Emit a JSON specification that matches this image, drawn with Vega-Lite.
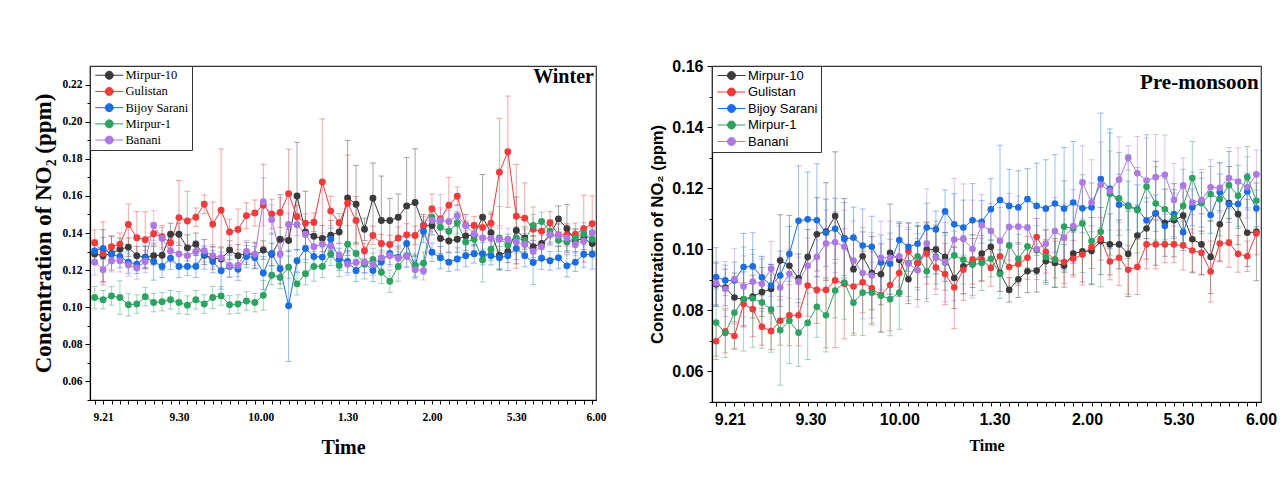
{
"$schema": "https://vega.github.io/schema/vega-lite/v6.json",
"background": "white",
"padding": {"left": 32, "top": 57, "right": 0, "bottom": 0},
"spacing": 42,
"columns": 2,
"resolve": {"legend": {"color": "independent"}},
"datasets": {
"W": [
{"s":"Mirpur-10","i":0,"v":0.1287,"e":0.005},{"s":"Mirpur-10","i":1,"v":0.1278,"e":0.014},{"s":"Mirpur-10","i":2,"v":0.129,"e":0.009},{"s":"Mirpur-10","i":3,"v":0.1313,"e":0.006},{"s":"Mirpur-10","i":4,"v":0.1324,"e":0.005},{"s":"Mirpur-10","i":5,"v":0.1278,"e":0.005},{"s":"Mirpur-10","i":6,"v":0.127,"e":0.006},{"s":"Mirpur-10","i":7,"v":0.1278,"e":0.005},{"s":"Mirpur-10","i":8,"v":0.128,"e":0.008},{"s":"Mirpur-10","i":9,"v":0.1393,"e":0.006},
{"s":"Mirpur-10","i":10,"v":0.1393,"e":0.006},{"s":"Mirpur-10","i":11,"v":0.132,"e":0.007},{"s":"Mirpur-10","i":12,"v":0.134,"e":0.006},{"s":"Mirpur-10","i":13,"v":0.128,"e":0.005},{"s":"Mirpur-10","i":14,"v":0.1265,"e":0.006},{"s":"Mirpur-10","i":15,"v":0.126,"e":0.006},{"s":"Mirpur-10","i":16,"v":0.1308,"e":0.005},{"s":"Mirpur-10","i":17,"v":0.1278,"e":0.006},{"s":"Mirpur-10","i":18,"v":0.129,"e":0.006},{"s":"Mirpur-10","i":19,"v":0.128,"e":0.007},
{"s":"Mirpur-10","i":20,"v":0.1308,"e":0.005},{"s":"Mirpur-10","i":21,"v":0.1285,"e":0.006},{"s":"Mirpur-10","i":22,"v":0.1366,"e":0.024},{"s":"Mirpur-10","i":23,"v":0.136,"e":0.006},{"s":"Mirpur-10","i":24,"v":0.1599,"e":0.029},{"s":"Mirpur-10","i":25,"v":0.1405,"e":0.022},{"s":"Mirpur-10","i":26,"v":0.1382,"e":0.006},{"s":"Mirpur-10","i":27,"v":0.137,"e":0.007},{"s":"Mirpur-10","i":28,"v":0.1388,"e":0.008},{"s":"Mirpur-10","i":29,"v":0.1405,"e":0.006},
{"s":"Mirpur-10","i":30,"v":0.1589,"e":0.031},{"s":"Mirpur-10","i":31,"v":0.1555,"e":0.021},{"s":"Mirpur-10","i":32,"v":0.142,"e":0.006},{"s":"Mirpur-10","i":33,"v":0.1587,"e":0.019},{"s":"Mirpur-10","i":34,"v":0.1467,"e":0.024},{"s":"Mirpur-10","i":35,"v":0.1467,"e":0.012},{"s":"Mirpur-10","i":36,"v":0.1485,"e":0.0125},{"s":"Mirpur-10","i":37,"v":0.1546,"e":0.026},{"s":"Mirpur-10","i":38,"v":0.1564,"e":0.029},{"s":"Mirpur-10","i":39,"v":0.144,"e":0.006},
{"s":"Mirpur-10","i":40,"v":0.144,"e":0.005},{"s":"Mirpur-10","i":41,"v":0.137,"e":0.008},{"s":"Mirpur-10","i":42,"v":0.1357,"e":0.006},{"s":"Mirpur-10","i":43,"v":0.1366,"e":0.007},{"s":"Mirpur-10","i":44,"v":0.1384,"e":0.008},{"s":"Mirpur-10","i":45,"v":0.139,"e":0.006},{"s":"Mirpur-10","i":46,"v":0.1485,"e":0.023},{"s":"Mirpur-10","i":47,"v":0.1402,"e":0.01},{"s":"Mirpur-10","i":48,"v":0.128,"e":0.008},{"s":"Mirpur-10","i":49,"v":0.13,"e":0.006},
{"s":"Mirpur-10","i":50,"v":0.1414,"e":0.018},{"s":"Mirpur-10","i":51,"v":0.1373,"e":0.006},{"s":"Mirpur-10","i":52,"v":0.1326,"e":0.006},{"s":"Mirpur-10","i":53,"v":0.1343,"e":0.007},{"s":"Mirpur-10","i":54,"v":0.139,"e":0.005},{"s":"Mirpur-10","i":55,"v":0.1476,"e":0.007},{"s":"Mirpur-10","i":56,"v":0.1423,"e":0.013},{"s":"Mirpur-10","i":57,"v":0.136,"e":0.006},{"s":"Mirpur-10","i":58,"v":0.137,"e":0.006},{"s":"Mirpur-10","i":59,"v":0.1343,"e":0.006},
{"s":"Gulistan","i":0,"v":0.1347,"e":0.007},{"s":"Gulistan","i":1,"v":0.129,"e":0.017},{"s":"Gulistan","i":2,"v":0.1326,"e":0.006},{"s":"Gulistan","i":3,"v":0.134,"e":0.006},{"s":"Gulistan","i":4,"v":0.1446,"e":0.011},{"s":"Gulistan","i":5,"v":0.1375,"e":0.014},{"s":"Gulistan","i":6,"v":0.1364,"e":0.015},{"s":"Gulistan","i":7,"v":0.1396,"e":0.006},{"s":"Gulistan","i":8,"v":0.138,"e":0.006},{"s":"Gulistan","i":9,"v":0.1347,"e":0.005},
{"s":"Gulistan","i":10,"v":0.1483,"e":0.02},{"s":"Gulistan","i":11,"v":0.1465,"e":0.016},{"s":"Gulistan","i":12,"v":0.1485,"e":0.005},{"s":"Gulistan","i":13,"v":0.1555,"e":0.005},{"s":"Gulistan","i":14,"v":0.1447,"e":0.012},{"s":"Gulistan","i":15,"v":0.1523,"e":0.033},{"s":"Gulistan","i":16,"v":0.1405,"e":0.007},{"s":"Gulistan","i":17,"v":0.1419,"e":0.011},{"s":"Gulistan","i":18,"v":0.1493,"e":0.007},{"s":"Gulistan","i":19,"v":0.1508,"e":0.007},
{"s":"Gulistan","i":20,"v":0.155,"e":0.022},{"s":"Gulistan","i":21,"v":0.1502,"e":0.008},{"s":"Gulistan","i":22,"v":0.151,"e":0.008},{"s":"Gulistan","i":23,"v":0.1612,"e":0.024},{"s":"Gulistan","i":24,"v":0.1488,"e":0.006},{"s":"Gulistan","i":25,"v":0.1453,"e":0.005},{"s":"Gulistan","i":26,"v":0.1458,"e":0.005},{"s":"Gulistan","i":27,"v":0.1675,"e":0.034},{"s":"Gulistan","i":28,"v":0.1518,"e":0.008},{"s":"Gulistan","i":29,"v":0.1455,"e":0.005},
{"s":"Gulistan","i":30,"v":0.156,"e":0.026},{"s":"Gulistan","i":31,"v":0.1467,"e":0.013},{"s":"Gulistan","i":32,"v":0.1304,"e":0.004},{"s":"Gulistan","i":33,"v":0.1387,"e":0.005},{"s":"Gulistan","i":34,"v":0.1343,"e":0.005},{"s":"Gulistan","i":35,"v":0.1338,"e":0.005},{"s":"Gulistan","i":36,"v":0.1373,"e":0.006},{"s":"Gulistan","i":37,"v":0.139,"e":0.006},{"s":"Gulistan","i":38,"v":0.1387,"e":0.005},{"s":"Gulistan","i":39,"v":0.144,"e":0.005},
{"s":"Gulistan","i":40,"v":0.153,"e":0.008},{"s":"Gulistan","i":41,"v":0.1475,"e":0.006},{"s":"Gulistan","i":42,"v":0.155,"e":0.015},{"s":"Gulistan","i":43,"v":0.1598,"e":0.005},{"s":"Gulistan","i":44,"v":0.144,"e":0.006},{"s":"Gulistan","i":45,"v":0.144,"e":0.005},{"s":"Gulistan","i":46,"v":0.143,"e":0.005},{"s":"Gulistan","i":47,"v":0.1453,"e":0.006},{"s":"Gulistan","i":48,"v":0.1728,"e":0.029},{"s":"Gulistan","i":49,"v":0.1838,"e":0.03},
{"s":"Gulistan","i":50,"v":0.149,"e":0.028},{"s":"Gulistan","i":51,"v":0.148,"e":0.019},{"s":"Gulistan","i":52,"v":0.142,"e":0.012},{"s":"Gulistan","i":53,"v":0.141,"e":0.006},{"s":"Gulistan","i":54,"v":0.1455,"e":0.006},{"s":"Gulistan","i":55,"v":0.139,"e":0.006},{"s":"Gulistan","i":56,"v":0.139,"e":0.006},{"s":"Gulistan","i":57,"v":0.1393,"e":0.006},{"s":"Gulistan","i":58,"v":0.1423,"e":0.018},{"s":"Gulistan","i":59,"v":0.145,"e":0.015},
{"s":"Bijoy Sarani","i":0,"v":0.1303,"e":0.006},{"s":"Bijoy Sarani","i":1,"v":0.1317,"e":0.006},{"s":"Bijoy Sarani","i":2,"v":0.1285,"e":0.005},{"s":"Bijoy Sarani","i":3,"v":0.1273,"e":0.006},{"s":"Bijoy Sarani","i":4,"v":0.1243,"e":0.006},{"s":"Bijoy Sarani","i":5,"v":0.1232,"e":0.005},{"s":"Bijoy Sarani","i":6,"v":0.1267,"e":0.006},{"s":"Bijoy Sarani","i":7,"v":0.1246,"e":0.01},{"s":"Bijoy Sarani","i":8,"v":0.122,"e":0.006},{"s":"Bijoy Sarani","i":9,"v":0.1264,"e":0.006},
{"s":"Bijoy Sarani","i":10,"v":0.122,"e":0.006},{"s":"Bijoy Sarani","i":11,"v":0.122,"e":0.005},{"s":"Bijoy Sarani","i":12,"v":0.122,"e":0.006},{"s":"Bijoy Sarani","i":13,"v":0.1285,"e":0.008},{"s":"Bijoy Sarani","i":14,"v":0.1246,"e":0.006},{"s":"Bijoy Sarani","i":15,"v":0.1197,"e":0.01},{"s":"Bijoy Sarani","i":16,"v":0.122,"e":0.006},{"s":"Bijoy Sarani","i":17,"v":0.1205,"e":0.006},{"s":"Bijoy Sarani","i":18,"v":0.1273,"e":0.006},{"s":"Bijoy Sarani","i":19,"v":0.1267,"e":0.006},
{"s":"Bijoy Sarani","i":20,"v":0.1184,"e":0.009},{"s":"Bijoy Sarani","i":21,"v":0.129,"e":0.011},{"s":"Bijoy Sarani","i":22,"v":0.1207,"e":0.006},{"s":"Bijoy Sarani","i":23,"v":0.1008,"e":0.03},{"s":"Bijoy Sarani","i":24,"v":0.125,"e":0.006},{"s":"Bijoy Sarani","i":25,"v":0.1317,"e":0.006},{"s":"Bijoy Sarani","i":26,"v":0.1273,"e":0.006},{"s":"Bijoy Sarani","i":27,"v":0.127,"e":0.006},{"s":"Bijoy Sarani","i":28,"v":0.1366,"e":0.006},{"s":"Bijoy Sarani","i":29,"v":0.1258,"e":0.006},
{"s":"Bijoy Sarani","i":30,"v":0.1246,"e":0.006},{"s":"Bijoy Sarani","i":31,"v":0.1198,"e":0.006},{"s":"Bijoy Sarani","i":32,"v":0.1237,"e":0.005},{"s":"Bijoy Sarani","i":33,"v":0.1198,"e":0.006},{"s":"Bijoy Sarani","i":34,"v":0.1245,"e":0.006},{"s":"Bijoy Sarani","i":35,"v":0.129,"e":0.006},{"s":"Bijoy Sarani","i":36,"v":0.127,"e":0.006},{"s":"Bijoy Sarani","i":37,"v":0.1343,"e":0.006},{"s":"Bijoy Sarani","i":38,"v":0.122,"e":0.006},{"s":"Bijoy Sarani","i":39,"v":0.1408,"e":0.006},
{"s":"Bijoy Sarani","i":40,"v":0.1296,"e":0.005},{"s":"Bijoy Sarani","i":41,"v":0.1267,"e":0.006},{"s":"Bijoy Sarani","i":42,"v":0.1243,"e":0.005},{"s":"Bijoy Sarani","i":43,"v":0.126,"e":0.006},{"s":"Bijoy Sarani","i":44,"v":0.1278,"e":0.006},{"s":"Bijoy Sarani","i":45,"v":0.1288,"e":0.005},{"s":"Bijoy Sarani","i":46,"v":0.1288,"e":0.006},{"s":"Bijoy Sarani","i":47,"v":0.1278,"e":0.005},{"s":"Bijoy Sarani","i":48,"v":0.1267,"e":0.006},{"s":"Bijoy Sarani","i":49,"v":0.1278,"e":0.008},
{"s":"Bijoy Sarani","i":50,"v":0.1317,"e":0.006},{"s":"Bijoy Sarani","i":51,"v":0.1278,"e":0.006},{"s":"Bijoy Sarani","i":52,"v":0.1241,"e":0.012},{"s":"Bijoy Sarani","i":53,"v":0.1264,"e":0.006},{"s":"Bijoy Sarani","i":54,"v":0.125,"e":0.005},{"s":"Bijoy Sarani","i":55,"v":0.1267,"e":0.006},{"s":"Bijoy Sarani","i":56,"v":0.1223,"e":0.006},{"s":"Bijoy Sarani","i":57,"v":0.1243,"e":0.005},{"s":"Bijoy Sarani","i":58,"v":0.1285,"e":0.007},{"s":"Bijoy Sarani","i":59,"v":0.1285,"e":0.008},
{"s":"Mirpur-1","i":0,"v":0.1052,"e":0.006},{"s":"Mirpur-1","i":1,"v":0.104,"e":0.005},{"s":"Mirpur-1","i":2,"v":0.1061,"e":0.005},{"s":"Mirpur-1","i":3,"v":0.1052,"e":0.009},{"s":"Mirpur-1","i":4,"v":0.1013,"e":0.006},{"s":"Mirpur-1","i":5,"v":0.1017,"e":0.005},{"s":"Mirpur-1","i":6,"v":0.1057,"e":0.005},{"s":"Mirpur-1","i":7,"v":0.1025,"e":0.005},{"s":"Mirpur-1","i":8,"v":0.103,"e":0.005},{"s":"Mirpur-1","i":9,"v":0.104,"e":0.005},
{"s":"Mirpur-1","i":10,"v":0.1025,"e":0.006},{"s":"Mirpur-1","i":11,"v":0.1011,"e":0.005},{"s":"Mirpur-1","i":12,"v":0.104,"e":0.005},{"s":"Mirpur-1","i":13,"v":0.1017,"e":0.005},{"s":"Mirpur-1","i":14,"v":0.1052,"e":0.006},{"s":"Mirpur-1","i":15,"v":0.1061,"e":0.005},{"s":"Mirpur-1","i":16,"v":0.1013,"e":0.005},{"s":"Mirpur-1","i":17,"v":0.1017,"e":0.005},{"s":"Mirpur-1","i":18,"v":0.1034,"e":0.005},{"s":"Mirpur-1","i":19,"v":0.1025,"e":0.005},
{"s":"Mirpur-1","i":20,"v":0.1064,"e":0.008},{"s":"Mirpur-1","i":21,"v":0.1172,"e":0.005},{"s":"Mirpur-1","i":22,"v":0.1161,"e":0.006},{"s":"Mirpur-1","i":23,"v":0.1216,"e":0.006},{"s":"Mirpur-1","i":24,"v":0.1126,"e":0.006},{"s":"Mirpur-1","i":25,"v":0.118,"e":0.006},{"s":"Mirpur-1","i":26,"v":0.122,"e":0.008},{"s":"Mirpur-1","i":27,"v":0.122,"e":0.006},{"s":"Mirpur-1","i":28,"v":0.1285,"e":0.006},{"s":"Mirpur-1","i":29,"v":0.1225,"e":0.006},
{"s":"Mirpur-1","i":30,"v":0.134,"e":0.01},{"s":"Mirpur-1","i":31,"v":0.129,"e":0.006},{"s":"Mirpur-1","i":32,"v":0.1232,"e":0.008},{"s":"Mirpur-1","i":33,"v":0.1258,"e":0.006},{"s":"Mirpur-1","i":34,"v":0.1188,"e":0.006},{"s":"Mirpur-1","i":35,"v":0.114,"e":0.006},{"s":"Mirpur-1","i":36,"v":0.122,"e":0.008},{"s":"Mirpur-1","i":37,"v":0.1278,"e":0.006},{"s":"Mirpur-1","i":38,"v":0.1228,"e":0.006},{"s":"Mirpur-1","i":39,"v":0.1237,"e":0.006},
{"s":"Mirpur-1","i":40,"v":0.1485,"e":0.006},{"s":"Mirpur-1","i":41,"v":0.1431,"e":0.006},{"s":"Mirpur-1","i":42,"v":0.1409,"e":0.006},{"s":"Mirpur-1","i":43,"v":0.1455,"e":0.006},{"s":"Mirpur-1","i":44,"v":0.1352,"e":0.006},{"s":"Mirpur-1","i":45,"v":0.1366,"e":0.006},{"s":"Mirpur-1","i":46,"v":0.1255,"e":0.012},{"s":"Mirpur-1","i":47,"v":0.1311,"e":0.006},{"s":"Mirpur-1","i":48,"v":0.1373,"e":0.017},{"s":"Mirpur-1","i":49,"v":0.1334,"e":0.006},
{"s":"Mirpur-1","i":50,"v":0.1373,"e":0.006},{"s":"Mirpur-1","i":51,"v":0.1361,"e":0.006},{"s":"Mirpur-1","i":52,"v":0.144,"e":0.006},{"s":"Mirpur-1","i":53,"v":0.1462,"e":0.005},{"s":"Mirpur-1","i":54,"v":0.141,"e":0.006},{"s":"Mirpur-1","i":55,"v":0.1361,"e":0.006},{"s":"Mirpur-1","i":56,"v":0.1352,"e":0.005},{"s":"Mirpur-1","i":57,"v":0.1373,"e":0.005},{"s":"Mirpur-1","i":58,"v":0.1396,"e":0.006},{"s":"Mirpur-1","i":59,"v":0.1366,"e":0.006},
{"s":"Banani","i":0,"v":0.1243,"e":0.007},{"s":"Banani","i":1,"v":0.1202,"e":0.007},{"s":"Banani","i":2,"v":0.125,"e":0.006},{"s":"Banani","i":3,"v":0.125,"e":0.006},{"s":"Banani","i":4,"v":0.1228,"e":0.006},{"s":"Banani","i":5,"v":0.1211,"e":0.006},{"s":"Banani","i":6,"v":0.1246,"e":0.006},{"s":"Banani","i":7,"v":0.144,"e":0.008},{"s":"Banani","i":8,"v":0.137,"e":0.006},{"s":"Banani","i":9,"v":0.1303,"e":0.006},
{"s":"Banani","i":10,"v":0.1287,"e":0.006},{"s":"Banani","i":11,"v":0.1278,"e":0.006},{"s":"Banani","i":12,"v":0.13,"e":0.006},{"s":"Banani","i":13,"v":0.1304,"e":0.006},{"s":"Banani","i":14,"v":0.1278,"e":0.006},{"s":"Banani","i":15,"v":0.1267,"e":0.006},{"s":"Banani","i":16,"v":0.1225,"e":0.006},{"s":"Banani","i":17,"v":0.1225,"e":0.006},{"s":"Banani","i":18,"v":0.13,"e":0.006},{"s":"Banani","i":19,"v":0.1285,"e":0.006},
{"s":"Banani","i":20,"v":0.1568,"e":0.013},{"s":"Banani","i":21,"v":0.1472,"e":0.008},{"s":"Banani","i":22,"v":0.1287,"e":0.006},{"s":"Banani","i":23,"v":0.1446,"e":0.006},{"s":"Banani","i":24,"v":0.1446,"e":0.006},{"s":"Banani","i":25,"v":0.1393,"e":0.006},{"s":"Banani","i":26,"v":0.1326,"e":0.006},{"s":"Banani","i":27,"v":0.134,"e":0.006},{"s":"Banani","i":28,"v":0.133,"e":0.006},{"s":"Banani","i":29,"v":0.1282,"e":0.006},
{"s":"Banani","i":30,"v":0.1232,"e":0.006},{"s":"Banani","i":31,"v":0.1241,"e":0.006},{"s":"Banani","i":32,"v":0.1243,"e":0.006},{"s":"Banani","i":33,"v":0.1232,"e":0.006},{"s":"Banani","i":34,"v":0.1267,"e":0.006},{"s":"Banani","i":35,"v":0.1278,"e":0.006},{"s":"Banani","i":36,"v":0.1264,"e":0.006},{"s":"Banani","i":37,"v":0.1273,"e":0.006},{"s":"Banani","i":38,"v":0.1202,"e":0.005},{"s":"Banani","i":39,"v":0.1197,"e":0.005},
{"s":"Banani","i":40,"v":0.1467,"e":0.006},{"s":"Banani","i":41,"v":0.1467,"e":0.014},{"s":"Banani","i":42,"v":0.1462,"e":0.006},{"s":"Banani","i":43,"v":0.1493,"e":0.006},{"s":"Banani","i":44,"v":0.144,"e":0.006},{"s":"Banani","i":45,"v":0.1396,"e":0.006},{"s":"Banani","i":46,"v":0.1373,"e":0.006},{"s":"Banani","i":47,"v":0.137,"e":0.006},{"s":"Banani","i":48,"v":0.1366,"e":0.006},{"s":"Banani","i":49,"v":0.1366,"e":0.006},
{"s":"Banani","i":50,"v":0.1352,"e":0.006},{"s":"Banani","i":51,"v":0.1338,"e":0.006},{"s":"Banani","i":52,"v":0.13,"e":0.006},{"s":"Banani","i":53,"v":0.1326,"e":0.006},{"s":"Banani","i":54,"v":0.1391,"e":0.006},{"s":"Banani","i":55,"v":0.1387,"e":0.006},{"s":"Banani","i":56,"v":0.1373,"e":0.007},{"s":"Banani","i":57,"v":0.1338,"e":0.006},{"s":"Banani","i":58,"v":0.1357,"e":0.008},{"s":"Banani","i":59,"v":0.1402,"e":0.006}
],
"P": [
{"s":"Mirpur-10","i":0,"v":0.0885,"e":0.007},{"s":"Mirpur-10","i":1,"v":0.0875,"e":0.006},{"s":"Mirpur-10","i":2,"v":0.0842,"e":0.008},{"s":"Mirpur-10","i":3,"v":0.0836,"e":0.009},{"s":"Mirpur-10","i":4,"v":0.0845,"e":0.007},{"s":"Mirpur-10","i":5,"v":0.086,"e":0.008},{"s":"Mirpur-10","i":6,"v":0.087,"e":0.008},{"s":"Mirpur-10","i":7,"v":0.0963,"e":0.015},{"s":"Mirpur-10","i":8,"v":0.0946,"e":0.0165},{"s":"Mirpur-10","i":9,"v":0.0905,"e":0.008},
{"s":"Mirpur-10","i":10,"v":0.0975,"e":0.009},{"s":"Mirpur-10","i":11,"v":0.1049,"e":0.012},{"s":"Mirpur-10","i":12,"v":0.1058,"e":0.016},{"s":"Mirpur-10","i":13,"v":0.1109,"e":0.021},{"s":"Mirpur-10","i":14,"v":0.1036,"e":0.013},{"s":"Mirpur-10","i":15,"v":0.0935,"e":0.01},{"s":"Mirpur-10","i":16,"v":0.0977,"e":0.008},{"s":"Mirpur-10","i":17,"v":0.0922,"e":0.012},{"s":"Mirpur-10","i":18,"v":0.0918,"e":0.01},{"s":"Mirpur-10","i":19,"v":0.0988,"e":0.016},
{"s":"Mirpur-10","i":20,"v":0.0965,"e":0.012},{"s":"Mirpur-10","i":21,"v":0.0902,"e":0.008},{"s":"Mirpur-10","i":22,"v":0.0955,"e":0.012},{"s":"Mirpur-10","i":23,"v":0.0999,"e":0.009},{"s":"Mirpur-10","i":24,"v":0.0999,"e":0.008},{"s":"Mirpur-10","i":25,"v":0.0975,"e":0.008},{"s":"Mirpur-10","i":26,"v":0.0906,"e":0.01},{"s":"Mirpur-10","i":27,"v":0.0944,"e":0.009},{"s":"Mirpur-10","i":28,"v":0.0955,"e":0.008},{"s":"Mirpur-10","i":29,"v":0.0986,"e":0.009},
{"s":"Mirpur-10","i":30,"v":0.1008,"e":0.006},{"s":"Mirpur-10","i":31,"v":0.0922,"e":0.006},{"s":"Mirpur-10","i":32,"v":0.0867,"e":0.004},{"s":"Mirpur-10","i":33,"v":0.0902,"e":0.006},{"s":"Mirpur-10","i":34,"v":0.0928,"e":0.007},{"s":"Mirpur-10","i":35,"v":0.093,"e":0.007},{"s":"Mirpur-10","i":36,"v":0.0961,"e":0.007},{"s":"Mirpur-10","i":37,"v":0.0955,"e":0.008},{"s":"Mirpur-10","i":38,"v":0.0946,"e":0.007},{"s":"Mirpur-10","i":39,"v":0.0986,"e":0.007},
{"s":"Mirpur-10","i":40,"v":0.0993,"e":0.01},{"s":"Mirpur-10","i":41,"v":0.0994,"e":0.011},{"s":"Mirpur-10","i":42,"v":0.1027,"e":0.011},{"s":"Mirpur-10","i":43,"v":0.1016,"e":0.01},{"s":"Mirpur-10","i":44,"v":0.1016,"e":0.008},{"s":"Mirpur-10","i":45,"v":0.0985,"e":0.014},{"s":"Mirpur-10","i":46,"v":0.1045,"e":0.01},{"s":"Mirpur-10","i":47,"v":0.1068,"e":0.01},{"s":"Mirpur-10","i":48,"v":0.1118,"e":0.017},{"s":"Mirpur-10","i":49,"v":0.1087,"e":0.011},
{"s":"Mirpur-10","i":50,"v":0.1095,"e":0.012},{"s":"Mirpur-10","i":51,"v":0.111,"e":0.009},{"s":"Mirpur-10","i":52,"v":0.1033,"e":0.011},{"s":"Mirpur-10","i":53,"v":0.1016,"e":0.01},{"s":"Mirpur-10","i":54,"v":0.0975,"e":0.012},{"s":"Mirpur-10","i":55,"v":0.1082,"e":0.012},{"s":"Mirpur-10","i":56,"v":0.1151,"e":0.012},{"s":"Mirpur-10","i":57,"v":0.1115,"e":0.01},{"s":"Mirpur-10","i":58,"v":0.1054,"e":0.011},{"s":"Mirpur-10","i":59,"v":0.1057,"e":0.016},
{"s":"Gulistan","i":0,"v":0.0699,"e":0.006},{"s":"Gulistan","i":1,"v":0.0731,"e":0.007},{"s":"Gulistan","i":2,"v":0.0716,"e":0.004},{"s":"Gulistan","i":3,"v":0.0821,"e":0.007},{"s":"Gulistan","i":4,"v":0.0804,"e":0.009},{"s":"Gulistan","i":5,"v":0.0746,"e":0.006},{"s":"Gulistan","i":6,"v":0.0732,"e":0.006},{"s":"Gulistan","i":7,"v":0.0766,"e":0.008},{"s":"Gulistan","i":8,"v":0.0784,"e":0.01},{"s":"Gulistan","i":9,"v":0.0784,"e":0.01},
{"s":"Gulistan","i":10,"v":0.0881,"e":0.01},{"s":"Gulistan","i":11,"v":0.0867,"e":0.011},{"s":"Gulistan","i":12,"v":0.0867,"e":0.019},{"s":"Gulistan","i":13,"v":0.0898,"e":0.022},{"s":"Gulistan","i":14,"v":0.0887,"e":0.018},{"s":"Gulistan","i":15,"v":0.0878,"e":0.016},{"s":"Gulistan","i":16,"v":0.0892,"e":0.01},{"s":"Gulistan","i":17,"v":0.0872,"e":0.012},{"s":"Gulistan","i":18,"v":0.085,"e":0.012},{"s":"Gulistan","i":19,"v":0.0883,"e":0.015},
{"s":"Gulistan","i":20,"v":0.0922,"e":0.006},{"s":"Gulistan","i":21,"v":0.0994,"e":0.009},{"s":"Gulistan","i":22,"v":0.0955,"e":0.008},{"s":"Gulistan","i":23,"v":0.0986,"e":0.01},{"s":"Gulistan","i":24,"v":0.094,"e":0.007},{"s":"Gulistan","i":25,"v":0.0919,"e":0.01},{"s":"Gulistan","i":26,"v":0.0875,"e":0.0135},{"s":"Gulistan","i":27,"v":0.0933,"e":0.01},{"s":"Gulistan","i":28,"v":0.0966,"e":0.008},{"s":"Gulistan","i":29,"v":0.0966,"e":0.007},
{"s":"Gulistan","i":30,"v":0.0939,"e":0.006},{"s":"Gulistan","i":31,"v":0.0977,"e":0.006},{"s":"Gulistan","i":32,"v":0.0942,"e":0.007},{"s":"Gulistan","i":33,"v":0.0952,"e":0.007},{"s":"Gulistan","i":34,"v":0.0972,"e":0.007},{"s":"Gulistan","i":35,"v":0.104,"e":0.006},{"s":"Gulistan","i":36,"v":0.0992,"e":0.007},{"s":"Gulistan","i":37,"v":0.0966,"e":0.006},{"s":"Gulistan","i":38,"v":0.0958,"e":0.007},{"s":"Gulistan","i":39,"v":0.0969,"e":0.006},
{"s":"Gulistan","i":40,"v":0.0983,"e":0.01},{"s":"Gulistan","i":41,"v":0.1007,"e":0.007},{"s":"Gulistan","i":42,"v":0.1034,"e":0.007},{"s":"Gulistan","i":43,"v":0.096,"e":0.006},{"s":"Gulistan","i":44,"v":0.0972,"e":0.009},{"s":"Gulistan","i":45,"v":0.0933,"e":0.008},{"s":"Gulistan","i":46,"v":0.0942,"e":0.009},{"s":"Gulistan","i":47,"v":0.1016,"e":0.008},{"s":"Gulistan","i":48,"v":0.1016,"e":0.008},{"s":"Gulistan","i":49,"v":0.1016,"e":0.006},
{"s":"Gulistan","i":50,"v":0.1016,"e":0.006},{"s":"Gulistan","i":51,"v":0.1012,"e":0.008},{"s":"Gulistan","i":52,"v":0.0996,"e":0.007},{"s":"Gulistan","i":53,"v":0.0988,"e":0.007},{"s":"Gulistan","i":54,"v":0.0927,"e":0.01},{"s":"Gulistan","i":55,"v":0.1019,"e":0.006},{"s":"Gulistan","i":56,"v":0.1021,"e":0.008},{"s":"Gulistan","i":57,"v":0.0985,"e":0.006},{"s":"Gulistan","i":58,"v":0.0977,"e":0.005},{"s":"Gulistan","i":59,"v":0.1052,"e":0.007},
{"s":"Bijoy Sarani","i":0,"v":0.0909,"e":0.0096},{"s":"Bijoy Sarani","i":1,"v":0.0898,"e":0.005},{"s":"Bijoy Sarani","i":2,"v":0.0898,"e":0.006},{"s":"Bijoy Sarani","i":3,"v":0.0942,"e":0.011},{"s":"Bijoy Sarani","i":4,"v":0.0944,"e":0.011},{"s":"Bijoy Sarani","i":5,"v":0.0908,"e":0.006},{"s":"Bijoy Sarani","i":6,"v":0.0881,"e":0.007},{"s":"Bijoy Sarani","i":7,"v":0.0914,"e":0.008},{"s":"Bijoy Sarani","i":8,"v":0.0985,"e":0.009},{"s":"Bijoy Sarani","i":9,"v":0.1093,"e":0.018},
{"s":"Bijoy Sarani","i":10,"v":0.1098,"e":0.0155},{"s":"Bijoy Sarani","i":11,"v":0.1095,"e":0.0185},{"s":"Bijoy Sarani","i":12,"v":0.1054,"e":0.011},{"s":"Bijoy Sarani","i":13,"v":0.1067,"e":0.01},{"s":"Bijoy Sarani","i":14,"v":0.1034,"e":0.012},{"s":"Bijoy Sarani","i":15,"v":0.1038,"e":0.01},{"s":"Bijoy Sarani","i":16,"v":0.1012,"e":0.012},{"s":"Bijoy Sarani","i":17,"v":0.1008,"e":0.01},{"s":"Bijoy Sarani","i":18,"v":0.0957,"e":0.009},{"s":"Bijoy Sarani","i":19,"v":0.0953,"e":0.01},
{"s":"Bijoy Sarani","i":20,"v":0.103,"e":0.006},{"s":"Bijoy Sarani","i":21,"v":0.1008,"e":0.008},{"s":"Bijoy Sarani","i":22,"v":0.1018,"e":0.006},{"s":"Bijoy Sarani","i":23,"v":0.1071,"e":0.008},{"s":"Bijoy Sarani","i":24,"v":0.1065,"e":0.006},{"s":"Bijoy Sarani","i":25,"v":0.1124,"e":0.007},{"s":"Bijoy Sarani","i":26,"v":0.1082,"e":0.01},{"s":"Bijoy Sarani","i":27,"v":0.1071,"e":0.009},{"s":"Bijoy Sarani","i":28,"v":0.1095,"e":0.012},{"s":"Bijoy Sarani","i":29,"v":0.109,"e":0.007},
{"s":"Bijoy Sarani","i":30,"v":0.1131,"e":0.01},{"s":"Bijoy Sarani","i":31,"v":0.1161,"e":0.018},{"s":"Bijoy Sarani","i":32,"v":0.1142,"e":0.012},{"s":"Bijoy Sarani","i":33,"v":0.1137,"e":0.012},{"s":"Bijoy Sarani","i":34,"v":0.1164,"e":0.01},{"s":"Bijoy Sarani","i":35,"v":0.1142,"e":0.014},{"s":"Bijoy Sarani","i":36,"v":0.1133,"e":0.016},{"s":"Bijoy Sarani","i":37,"v":0.115,"e":0.016},{"s":"Bijoy Sarani","i":38,"v":0.1133,"e":0.02},{"s":"Bijoy Sarani","i":39,"v":0.1153,"e":0.02},
{"s":"Bijoy Sarani","i":40,"v":0.1134,"e":0.008},{"s":"Bijoy Sarani","i":41,"v":0.1137,"e":0.008},{"s":"Bijoy Sarani","i":42,"v":0.123,"e":0.0216},{"s":"Bijoy Sarani","i":43,"v":0.1198,"e":0.0196},{"s":"Bijoy Sarani","i":44,"v":0.1146,"e":0.01},{"s":"Bijoy Sarani","i":45,"v":0.1143,"e":0.008},{"s":"Bijoy Sarani","i":46,"v":0.1131,"e":0.008},{"s":"Bijoy Sarani","i":47,"v":0.1095,"e":0.006},{"s":"Bijoy Sarani","i":48,"v":0.1118,"e":0.006},{"s":"Bijoy Sarani","i":49,"v":0.1076,"e":0.006},
{"s":"Bijoy Sarani","i":50,"v":0.1115,"e":0.008},{"s":"Bijoy Sarani","i":51,"v":0.1056,"e":0.006},{"s":"Bijoy Sarani","i":52,"v":0.1137,"e":0.006},{"s":"Bijoy Sarani","i":53,"v":0.1153,"e":0.008},{"s":"Bijoy Sarani","i":54,"v":0.1112,"e":0.006},{"s":"Bijoy Sarani","i":55,"v":0.1187,"e":0.006},{"s":"Bijoy Sarani","i":56,"v":0.1148,"e":0.006},{"s":"Bijoy Sarani","i":57,"v":0.1148,"e":0.008},{"s":"Bijoy Sarani","i":58,"v":0.1189,"e":0.006},{"s":"Bijoy Sarani","i":59,"v":0.1134,"e":0.006},
{"s":"Mirpur-1","i":0,"v":0.076,"e":0.011},{"s":"Mirpur-1","i":1,"v":0.0726,"e":0.008},{"s":"Mirpur-1","i":2,"v":0.0792,"e":0.012},{"s":"Mirpur-1","i":3,"v":0.0837,"e":0.017},{"s":"Mirpur-1","i":4,"v":0.0839,"e":0.016},{"s":"Mirpur-1","i":5,"v":0.0826,"e":0.015},{"s":"Mirpur-1","i":6,"v":0.0803,"e":0.014},{"s":"Mirpur-1","i":7,"v":0.0735,"e":0.018},{"s":"Mirpur-1","i":8,"v":0.0766,"e":0.014},{"s":"Mirpur-1","i":9,"v":0.0727,"e":0.011},
{"s":"Mirpur-1","i":10,"v":0.0759,"e":0.012},{"s":"Mirpur-1","i":11,"v":0.0812,"e":0.01},{"s":"Mirpur-1","i":12,"v":0.0784,"e":0.012},{"s":"Mirpur-1","i":13,"v":0.0865,"e":0.009},{"s":"Mirpur-1","i":14,"v":0.0891,"e":0.012},{"s":"Mirpur-1","i":15,"v":0.0825,"e":0.01},{"s":"Mirpur-1","i":16,"v":0.0858,"e":0.014},{"s":"Mirpur-1","i":17,"v":0.0858,"e":0.01},{"s":"Mirpur-1","i":18,"v":0.0848,"e":0.012},{"s":"Mirpur-1","i":19,"v":0.0837,"e":0.012},
{"s":"Mirpur-1","i":20,"v":0.0858,"e":0.012},{"s":"Mirpur-1","i":21,"v":0.0955,"e":0.011},{"s":"Mirpur-1","i":22,"v":0.0977,"e":0.011},{"s":"Mirpur-1","i":23,"v":0.0928,"e":0.01},{"s":"Mirpur-1","i":24,"v":0.0976,"e":0.009},{"s":"Mirpur-1","i":25,"v":0.0956,"e":0.009},{"s":"Mirpur-1","i":26,"v":0.098,"e":0.008},{"s":"Mirpur-1","i":27,"v":0.0966,"e":0.008},{"s":"Mirpur-1","i":28,"v":0.0949,"e":0.01},{"s":"Mirpur-1","i":29,"v":0.0955,"e":0.009},
{"s":"Mirpur-1","i":30,"v":0.0969,"e":0.006},{"s":"Mirpur-1","i":31,"v":0.0919,"e":0.008},{"s":"Mirpur-1","i":32,"v":0.1012,"e":0.007},{"s":"Mirpur-1","i":33,"v":0.0969,"e":0.008},{"s":"Mirpur-1","i":34,"v":0.101,"e":0.007},{"s":"Mirpur-1","i":35,"v":0.0997,"e":0.008},{"s":"Mirpur-1","i":36,"v":0.0975,"e":0.009},{"s":"Mirpur-1","i":37,"v":0.0966,"e":0.009},{"s":"Mirpur-1","i":38,"v":0.1074,"e":0.015},{"s":"Mirpur-1","i":39,"v":0.1068,"e":0.009},
{"s":"Mirpur-1","i":40,"v":0.1084,"e":0.016},{"s":"Mirpur-1","i":41,"v":0.1027,"e":0.014},{"s":"Mirpur-1","i":42,"v":0.1057,"e":0.018},{"s":"Mirpur-1","i":43,"v":0.1181,"e":0.02},{"s":"Mirpur-1","i":44,"v":0.1167,"e":0.015},{"s":"Mirpur-1","i":45,"v":0.114,"e":0.017},{"s":"Mirpur-1","i":46,"v":0.1128,"e":0.014},{"s":"Mirpur-1","i":47,"v":0.1205,"e":0.017},{"s":"Mirpur-1","i":48,"v":0.115,"e":0.012},{"s":"Mirpur-1","i":49,"v":0.1131,"e":0.01},
{"s":"Mirpur-1","i":50,"v":0.1104,"e":0.008},{"s":"Mirpur-1","i":51,"v":0.1142,"e":0.012},{"s":"Mirpur-1","i":52,"v":0.1233,"e":0.012},{"s":"Mirpur-1","i":53,"v":0.1151,"e":0.01},{"s":"Mirpur-1","i":54,"v":0.1181,"e":0.009},{"s":"Mirpur-1","i":55,"v":0.1164,"e":0.012},{"s":"Mirpur-1","i":56,"v":0.121,"e":0.011},{"s":"Mirpur-1","i":57,"v":0.1175,"e":0.01},{"s":"Mirpur-1","i":58,"v":0.1236,"e":0.01},{"s":"Mirpur-1","i":59,"v":0.1159,"e":0.009},
{"s":"Banani","i":0,"v":0.0889,"e":0.007},{"s":"Banani","i":1,"v":0.087,"e":0.009},{"s":"Banani","i":2,"v":0.0902,"e":0.01},{"s":"Banani","i":3,"v":0.0878,"e":0.01},{"s":"Banani","i":4,"v":0.0894,"e":0.009},{"s":"Banani","i":5,"v":0.0887,"e":0.009},{"s":"Banani","i":6,"v":0.0936,"e":0.009},{"s":"Banani","i":7,"v":0.0875,"e":0.01},{"s":"Banani","i":8,"v":0.092,"e":0.008},{"s":"Banani","i":9,"v":0.0894,"e":0.008},
{"s":"Banani","i":10,"v":0.0946,"e":0.009},{"s":"Banani","i":11,"v":0.0975,"e":0.012},{"s":"Banani","i":12,"v":0.1019,"e":0.011},{"s":"Banani","i":13,"v":0.1023,"e":0.01},{"s":"Banani","i":14,"v":0.1008,"e":0.012},{"s":"Banani","i":15,"v":0.0963,"e":0.013},{"s":"Banani","i":16,"v":0.0922,"e":0.015},{"s":"Banani","i":17,"v":0.0914,"e":0.014},{"s":"Banani","i":18,"v":0.0972,"e":0.012},{"s":"Banani","i":19,"v":0.0972,"e":0.012},
{"s":"Banani","i":20,"v":0.0977,"e":0.01},{"s":"Banani","i":21,"v":0.0953,"e":0.012},{"s":"Banani","i":22,"v":0.0931,"e":0.012},{"s":"Banani","i":23,"v":0.1018,"e":0.018},{"s":"Banani","i":24,"v":0.0972,"e":0.012},{"s":"Banani","i":25,"v":0.0958,"e":0.013},{"s":"Banani","i":26,"v":0.1032,"e":0.02},{"s":"Banani","i":27,"v":0.1034,"e":0.018},{"s":"Banani","i":28,"v":0.1001,"e":0.016},{"s":"Banani","i":29,"v":0.1079,"e":0.01},
{"s":"Banani","i":30,"v":0.106,"e":0.009},{"s":"Banani","i":31,"v":0.1027,"e":0.011},{"s":"Banani","i":32,"v":0.1073,"e":0.011},{"s":"Banani","i":33,"v":0.1074,"e":0.01},{"s":"Banani","i":34,"v":0.1071,"e":0.01},{"s":"Banani","i":35,"v":0.1001,"e":0.01},{"s":"Banani","i":36,"v":0.1018,"e":0.012},{"s":"Banani","i":37,"v":0.106,"e":0.011},{"s":"Banani","i":38,"v":0.1038,"e":0.011},{"s":"Banani","i":39,"v":0.1076,"e":0.012},
{"s":"Banani","i":40,"v":0.1219,"e":0.012},{"s":"Banani","i":41,"v":0.1153,"e":0.014},{"s":"Banani","i":42,"v":0.1211,"e":0.014},{"s":"Banani","i":43,"v":0.1192,"e":0.013},{"s":"Banani","i":44,"v":0.1228,"e":0.014},{"s":"Banani","i":45,"v":0.1299,"e":0.004},{"s":"Banani","i":46,"v":0.1249,"e":0.012},{"s":"Banani","i":47,"v":0.1225,"e":0.014},{"s":"Banani","i":48,"v":0.1236,"e":0.014},{"s":"Banani","i":49,"v":0.1244,"e":0.013},
{"s":"Banani","i":50,"v":0.1161,"e":0.012},{"s":"Banani","i":51,"v":0.1209,"e":0.009},{"s":"Banani","i":52,"v":0.1153,"e":0.01},{"s":"Banani","i":53,"v":0.1161,"e":0.01},{"s":"Banani","i":54,"v":0.1203,"e":0.009},{"s":"Banani","i":55,"v":0.1201,"e":0.008},{"s":"Banani","i":56,"v":0.1233,"e":0.01},{"s":"Banani","i":57,"v":0.1222,"e":0.011},{"s":"Banani","i":58,"v":0.1203,"e":0.01},{"s":"Banani","i":59,"v":0.1245,"e":0.008}
]
},
"concat": [
{
"width": 506, "height": 334,
"data": {"name": "W"},
"layer": [
{"mark": {"type": "errorbar", "orient": "vertical", "ticks": {"size": 6}, "opacity": 0.45, "thickness": 1},
 "encoding": {
  "x": {"field": "i", "type": "quantitative", "scale": {"domain": [-0.55, 59.45], "nice": false, "zero": false}, "axis": null},
  "y": {"field": "v", "type": "quantitative", "scale": {"domain": [0.05, 0.23], "nice": false, "zero": false}, "axis": null},
  "yError": {"field": "e"},
  "color": {"field": "s", "type": "nominal", "scale": {"domain": ["Mirpur-10","Gulistan","Bijoy Sarani","Mirpur-1","Banani"], "range": ["#3b3b3b","#ee3b3b","#1c6ee0","#2ea263","#ae78e2"]},
   "legend": {"orient": "top-left", "offset": 0, "title": null, "symbolType": "M-1,0L6,0M1.5,0A1,1,0,1,0,3.5,0A1,1,0,1,0,1.5,0Z", "symbolSize": 64, "symbolStrokeWidth": 1, "symbolOpacity": 1, "labelFont": "Liberation Serif", "labelFontSize": 12.5, "labelColor": "#000", "labelOffset": 20, "padding": 3, "rowPadding": 3.2, "strokeColor": "#333", "fillColor": "white"}}
 }},
{"mark": {"type": "line", "strokeWidth": 1},
 "encoding": {
  "x": {"field": "i", "type": "quantitative", "scale": {"domain": [-0.55, 59.45], "nice": false, "zero": false},
   "axis": {"orient": "bottom", "values": [1, 10, 19.7, 30, 40, 50, 59.45], "labelExpr": "datum.value < 5 ? '9.21' : datum.value < 15 ? '9.30' : datum.value < 25 ? '10.00' : datum.value < 35 ? '1.30' : datum.value < 45 ? '2.00' : datum.value < 55 ? '5.30' : '6.00'",
    "ticks": false, "tickSize": 0, "labelPadding": 11, "labelFlush": false, "labelBound": false, "labelFont": "Liberation Serif", "labelFontSize": 11.5, "labelFontWeight": "bold",
    "title": "Time", "titleFont": "Liberation Serif", "titleFontSize": 20, "titleFontWeight": "bold", "titlePadding": 15, "grid": false, "domainColor": "#000", "domainWidth": 1.2}},
  "y": {"field": "v", "type": "quantitative", "scale": {"domain": [0.05, 0.23], "nice": false, "zero": false},
   "axis": {"orient": "left", "values": [0.06, 0.08, 0.1, 0.12, 0.14, 0.16, 0.18, 0.2, 0.22], "format": ".2f", "tickSize": 5, "tickColor": "#000", "labelPadding": 3, "labelFont": "Liberation Serif", "labelFontSize": 11.5, "labelFontWeight": "bold",
    "title": "Concentration of NO₂ (ppm)", "titleFont": "Liberation Serif", "titleFontSize": 23, "titleFontWeight": "bold", "titlePadding": 6, "grid": false, "domainColor": "#000", "domainWidth": 1.2}},
  "color": {"field": "s", "type": "nominal", "scale": {"domain": ["Mirpur-10","Gulistan","Bijoy Sarani","Mirpur-1","Banani"], "range": ["#3b3b3b","#ee3b3b","#1c6ee0","#2ea263","#ae78e2"]},
   "legend": {"orient": "top-left", "offset": 0, "title": null, "symbolType": "M-1,0L6,0M1.5,0A1,1,0,1,0,3.5,0A1,1,0,1,0,1.5,0Z", "symbolSize": 64, "symbolStrokeWidth": 1, "symbolOpacity": 1, "labelFont": "Liberation Serif", "labelFontSize": 12.5, "labelColor": "#000", "labelOffset": 20, "padding": 3, "rowPadding": 3.2, "strokeColor": "#333", "fillColor": "white"}}
 }},
{"mark": {"type": "point", "filled": true, "size": 48, "opacity": 1},
 "encoding": {
  "x": {"field": "i", "type": "quantitative", "scale": {"domain": [-0.55, 59.45], "nice": false, "zero": false},
   "axis": {"orient": "bottom", "values": [0,1,2,3,4,5,6,7,8,9,10,11,12,13,14,15,16,17,18,19,20,21,22,23,24,25,26,27,28,29,30,31,32,33,34,35,36,37,38,39,40,41,42,43,44,45,46,47,48,49,50,51,52,53,54,55,56,57,58,59], "labels": false, "domain": false, "tickSize": 4, "tickColor": "#000", "title": null, "grid": false}},
  "y": {"field": "v", "type": "quantitative", "scale": {"domain": [0.05, 0.23], "nice": false, "zero": false},
   "axis": {"orient": "left", "values": [0.05, 0.07, 0.09, 0.11, 0.13, 0.15, 0.17, 0.19, 0.21], "labels": false, "domain": false, "tickSize": 3, "tickColor": "#000", "title": null, "grid": false}},
  "color": {"field": "s", "type": "nominal", "scale": {"domain": ["Mirpur-10","Gulistan","Bijoy Sarani","Mirpur-1","Banani"], "range": ["#3b3b3b","#ee3b3b","#1c6ee0","#2ea263","#ae78e2"]},
   "legend": {"orient": "top-left", "offset": 0, "title": null, "symbolType": "M-1,0L6,0M1.5,0A1,1,0,1,0,3.5,0A1,1,0,1,0,1.5,0Z", "symbolSize": 64, "symbolStrokeWidth": 1, "symbolOpacity": 1, "labelFont": "Liberation Serif", "labelFontSize": 12.5, "labelColor": "#000", "labelOffset": 20, "padding": 3, "rowPadding": 3.2, "strokeColor": "#333", "fillColor": "white"}}
 }},
{"data": {"values": [{}]},
 "mark": {"type": "text", "align": "right", "baseline": "alphabetic", "font": "Liberation Serif", "fontSize": 20, "fontWeight": "bold", "color": "#000", "text": "Winter"},
 "encoding": {"x": {"datum": 59.2, "type": "quantitative", "axis": null}, "y": {"datum": 0.2208, "type": "quantitative", "axis": null}}}
],
"resolve": {"axis": {"x": "independent", "y": "independent"}}
},
{
"width": 549, "height": 336,
"data": {"name": "P"},
"layer": [
{"mark": {"type": "errorbar", "orient": "vertical", "ticks": {"size": 6}, "opacity": 0.45, "thickness": 1},
 "encoding": {
  "x": {"field": "i", "type": "quantitative", "scale": {"domain": [-0.45, 59.5], "nice": false, "zero": false}, "axis": null},
  "y": {"field": "v", "type": "quantitative", "scale": {"domain": [0.05, 0.16], "nice": false, "zero": false}, "axis": null},
  "yError": {"field": "e"},
  "color": {"field": "s", "type": "nominal", "scale": {"domain": ["Mirpur-10","Gulistan","Bijoy Sarani","Mirpur-1","Banani"], "range": ["#3b3b3b","#ee3b3b","#1c6ee0","#2ea263","#ae78e2"]},
   "legend": {"orient": "top-left", "offset": 0, "title": null, "symbolType": "M-1,0L6,0M1.5,0A1,1,0,1,0,3.5,0A1,1,0,1,0,1.5,0Z", "symbolSize": 64, "symbolStrokeWidth": 1, "symbolOpacity": 1, "labelFont": "Liberation Sans", "labelFontSize": 13, "labelColor": "#000", "labelOffset": 20, "padding": 3, "rowPadding": 2.5, "strokeColor": "#333", "fillColor": "white"}}
 }},
{"mark": {"type": "line", "strokeWidth": 1},
 "encoding": {
  "x": {"field": "i", "type": "quantitative", "scale": {"domain": [-0.45, 59.5], "nice": false, "zero": false},
   "axis": {"orient": "bottom", "values": [1.5, 10.3, 20, 30.4, 40.5, 50.5, 59.5], "labelExpr": "datum.value < 5 ? '9.21' : datum.value < 15 ? '9.30' : datum.value < 25 ? '10.00' : datum.value < 35 ? '1.30' : datum.value < 45 ? '2.00' : datum.value < 55 ? '5.30' : '6.00'",
    "ticks": false, "tickSize": 0, "labelPadding": 9, "labelFlush": false, "labelBound": false, "labelFont": "Liberation Sans", "labelFontSize": 16, "labelFontWeight": "bold",
    "title": "Time", "titleFont": "Liberation Serif", "titleFontSize": 16, "titleFontWeight": "bold", "titlePadding": 10, "grid": false, "domainColor": "#000", "domainWidth": 1.2}},
  "y": {"field": "v", "type": "quantitative", "scale": {"domain": [0.05, 0.16], "nice": false, "zero": false},
   "axis": {"orient": "left", "values": [0.06, 0.08, 0.1, 0.12, 0.14, 0.16], "format": ".2f", "tickSize": 5, "tickColor": "#000", "labelPadding": 4, "labelFont": "Liberation Sans", "labelFontSize": 16, "labelFontWeight": "bold",
    "title": "Concentration of NO₂ (ppm)", "titleFont": "Liberation Sans", "titleFontSize": 16.5, "titleFontWeight": "bold", "titlePadding": 6, "grid": false, "domainColor": "#000", "domainWidth": 1.2}},
  "color": {"field": "s", "type": "nominal", "scale": {"domain": ["Mirpur-10","Gulistan","Bijoy Sarani","Mirpur-1","Banani"], "range": ["#3b3b3b","#ee3b3b","#1c6ee0","#2ea263","#ae78e2"]},
   "legend": {"orient": "top-left", "offset": 0, "title": null, "symbolType": "M-1,0L6,0M1.5,0A1,1,0,1,0,3.5,0A1,1,0,1,0,1.5,0Z", "symbolSize": 64, "symbolStrokeWidth": 1, "symbolOpacity": 1, "labelFont": "Liberation Sans", "labelFontSize": 13, "labelColor": "#000", "labelOffset": 20, "padding": 3, "rowPadding": 2.5, "strokeColor": "#333", "fillColor": "white"}}
 }},
{"mark": {"type": "point", "filled": true, "size": 44, "opacity": 1},
 "encoding": {
  "x": {"field": "i", "type": "quantitative", "scale": {"domain": [-0.45, 59.5], "nice": false, "zero": false},
   "axis": {"orient": "bottom", "values": [0,1,2,3,4,5,6,7,8,9,10,11,12,13,14,15,16,17,18,19,20,21,22,23,24,25,26,27,28,29,30,31,32,33,34,35,36,37,38,39,40,41,42,43,44,45,46,47,48,49,50,51,52,53,54,55,56,57,58,59], "labels": false, "domain": false, "tickSize": 4, "tickColor": "#000", "title": null, "grid": false}},
  "y": {"field": "v", "type": "quantitative", "scale": {"domain": [0.05, 0.16], "nice": false, "zero": false},
   "axis": {"orient": "left", "values": [0.05, 0.07, 0.09, 0.11, 0.13, 0.15], "labels": false, "domain": false, "tickSize": 3, "tickColor": "#000", "title": null, "grid": false}},
  "color": {"field": "s", "type": "nominal", "scale": {"domain": ["Mirpur-10","Gulistan","Bijoy Sarani","Mirpur-1","Banani"], "range": ["#3b3b3b","#ee3b3b","#1c6ee0","#2ea263","#ae78e2"]},
   "legend": {"orient": "top-left", "offset": 0, "title": null, "symbolType": "M-1,0L6,0M1.5,0A1,1,0,1,0,3.5,0A1,1,0,1,0,1.5,0Z", "symbolSize": 64, "symbolStrokeWidth": 1, "symbolOpacity": 1, "labelFont": "Liberation Sans", "labelFontSize": 13, "labelColor": "#000", "labelOffset": 20, "padding": 3, "rowPadding": 2.5, "strokeColor": "#333", "fillColor": "white"}}
 }},
{"data": {"values": [{}]},
 "mark": {"type": "text", "align": "right", "baseline": "alphabetic", "font": "Liberation Serif", "fontSize": 21, "fontWeight": "bold", "color": "#000", "text": "Pre-monsoon"},
 "encoding": {"x": {"datum": 59.25, "type": "quantitative", "axis": null}, "y": {"datum": 0.1525, "type": "quantitative", "axis": null}}}
],
"resolve": {"axis": {"x": "independent", "y": "independent"}}
}
],
"config": {
 "view": {"stroke": "#333", "strokeWidth": 1.2},
 "axis": {"labelColor": "#000", "titleColor": "#000", "grid": false}
}
}
